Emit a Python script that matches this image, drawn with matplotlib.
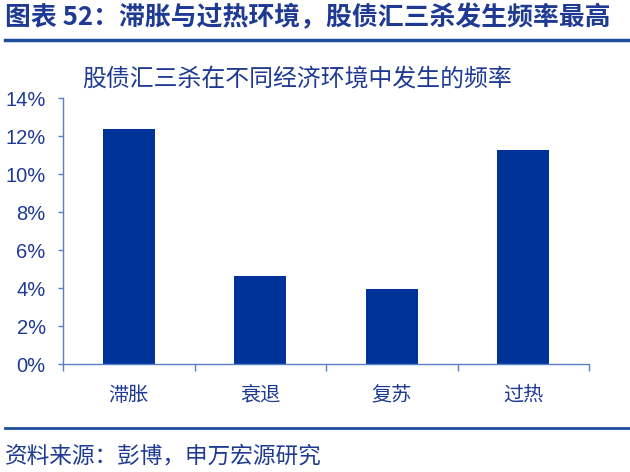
import matplotlib.pyplot as plt
from matplotlib.lines import Line2D
from matplotlib.ticker import FuncFormatter

plt.rcParams['font.family'] = ['Noto Sans CJK SC', 'DejaVu Sans']

categories = ["滞胀", "衰退", "复苏", "过热"]
freq = [0.124, 0.0464, 0.0394, 0.1129]
y_ticks = [0, 0.02, 0.04, 0.06, 0.08, 0.10, 0.12, 0.14]

title = "图表 52：滞胀与过热环境，股债汇三杀发生频率最高"
subtitle = "股债汇三杀在不同经济环境中发生的频率"
source = "资料来源：彭博，申万宏源研究"

BAR = "#003399"
TEXT = "#1F3A93"
AXIS = "#5B7FC7"
RULE = "#1F4E9A"

fig = plt.figure(figsize=(6.3, 4.72), dpi=100)
ax = fig.add_axes([0.1, 0.2282, 0.835, 0.5635])

x = list(range(len(categories)))
ax.bar(x, freq, width=0.395, color=BAR)

ax.set_xlim(-0.5, len(categories) - 0.5)
ax.set_ylim(0, 0.14)
ax.set_yticks(y_ticks)
ax.yaxis.set_major_formatter(FuncFormatter(lambda v, p: f"{v * 100:.0f}%"))
ax.tick_params(axis="y", direction="out", length=3.5, width=1, color=AXIS,
               labelcolor=TEXT, labelsize=14.5, pad=9)
for lab in ax.get_yticklabels():
    lab.set_fontfamily(["Liberation Sans", "DejaVu Sans"])

ax.set_xticks([i - 0.5 for i in range(len(categories) + 1)])
ax.set_xticklabels([])
ax.tick_params(axis="x", which="major", direction="out", length=5, width=1, color=AXIS)
ax.set_xticks(x, minor=True)
ax.set_xticklabels(categories, minor=True)
ax.tick_params(axis="x", which="minor", length=0, pad=15, labelcolor=TEXT, labelsize=14.5)

for side in ["top", "right"]:
    ax.spines[side].set_visible(False)
for side in ["left", "bottom"]:
    ax.spines[side].set_color(AXIS)
    ax.spines[side].set_linewidth(1)

fig.text(0.008, 1 - 18 / 472, title, fontsize=18.6, fontweight="bold", color=TEXT,
         ha="left", va="center")
fig.text(82 / 630, 1 - 80 / 472, subtitle, fontsize=17.2, color=TEXT,
         ha="left", va="center")
fig.text(0.008, 1 - 456 / 472, source, fontsize=16.3, color=TEXT,
         ha="left", va="center")

fig.add_artist(Line2D([0.008, 1], [1 - 40 / 472] * 2, color=RULE, lw=2.5,
                      transform=fig.transFigure))
fig.add_artist(Line2D([0.008, 1], [1 - 428 / 472] * 2, color=RULE, lw=2,
                      transform=fig.transFigure))

fig.savefig("out.png", dpi=100)
